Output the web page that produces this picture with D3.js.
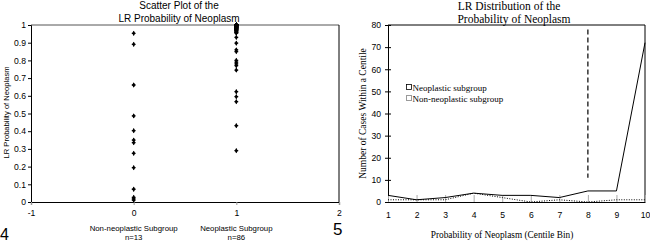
<!DOCTYPE html>
<html><head><meta charset="utf-8">
<script src="https://cdn.jsdelivr.net/npm/d3@7"></script>
<style>body{margin:0;background:#fff}svg{display:block}</style>
</head><body>
<svg id="c" width="650" height="242"></svg>
<script>
// ---- Data: left scatter ----
const groupX = [0, 1];
const groupNames = ["Non-neoplastic Subgroup", "Neoplastic Subgroup"];
const groupN = ["n=13", "n=86"];
const nonNeoplastic = [0.953, 0.891, 0.661, 0.486, 0.403, 0.35, 0.335, 0.275, 0.194, 0.072, 0.026, 0.018, 0.01];
const neoplastic = [
  1,1,1,1,1,1,1,1,1,1,1,1,1,1,1,1,1,1,1,1,
  0.998,0.998,0.998,0.998,0.998,0.998,0.998,0.998,0.998,0.998,
  0.995,0.995,0.995,0.995,0.995,0.995,0.995,0.995,0.995,0.995,
  0.99,0.99,0.99,0.99,0.99,0.99,0.99,0.99,
  0.985,0.985,0.985,0.985,0.985,0.985,
  0.98,0.98,0.98,0.98,0.98,
  0.975,0.975,0.975,0.975,
  0.97,0.97,0.97,
  0.965,0.965,0.96,0.96,0.955,0.955,
  0.93,0.897,0.86,0.85,0.80,0.79,0.78,0.77,0.745,0.623,0.595,0.567,0.431,0.29
];
const scatterYTicks = [0,0.1,0.2,0.3,0.4,0.5,0.6,0.7,0.8,0.9,1];
const scatterXTicks = [-1,0,1,2];

// ---- Data: right line chart ----
const centileBins = [1,2,3,4,5,6,7,8,9,10];
const neoplasticCounts = [3,1,2,4,3,3,2,5,5,72];
const nonNeoplasticCounts = [1,1,1,4,2,0,1,0,1,1];
const cutoffBin = 8;
const cutoffRange = [11, 78];
const lineYTicks = [0,10,20,30,40,50,60,70,80];

const svg = d3.select("#c");
const sans = "'Liberation Sans', Arial, sans-serif";
const serif = "'Liberation Serif', 'Times New Roman', serif";

// ================= LEFT CHART =================
const L = {x0:31, x1:339, y0:202, y1:25};
const xs = d3.scaleLinear().domain([-1,2]).range([L.x0, L.x1]);
const ys = d3.scaleLinear().domain([0,1]).range([L.y0, L.y1]);
const gL = svg.append("g");

// frame
gL.append("line").attr("x1",L.x0).attr("x2",L.x1).attr("y1",L.y1).attr("y2",L.y1).attr("stroke","#555").attr("stroke-width",1);
gL.append("line").attr("x1",L.x1).attr("x2",L.x1).attr("y1",L.y1).attr("y2",L.y0).attr("stroke","#000").attr("stroke-width",1);

const yAxL = gL.append("g").attr("transform",`translate(${L.x0},0)`)
  .call(d3.axisLeft(ys).tickValues(scatterYTicks).tickSize(3).tickPadding(2).tickFormat(d=>d3.format("~g")(d)));
yAxL.selectAll("text").attr("font-family",sans).attr("font-size","8.6px").attr("fill","#000");
yAxL.select(".domain").attr("stroke","#000");

const xAxL = gL.append("g").attr("transform",`translate(0,${L.y0})`)
  .call(d3.axisBottom(xs).tickValues(scatterXTicks).tickSize(3).tickPadding(5).tickFormat(d=>d));
xAxL.selectAll("text").attr("font-family",sans).attr("font-size","8.6px").attr("fill","#000");
xAxL.selectAll(".tick line").attr("stroke","#999");
xAxL.select(".domain").attr("stroke","#000").attr("stroke-width",1.2);

const diamond = d3.symbol().type(d3.symbolDiamond).size(8);
const cross = d3.symbol().type(d3.symbolCross).size(8);
[[0,nonNeoplastic],[1,neoplastic]].forEach(([gi,vals])=>{
  const g = gL.append("g");
  vals.forEach(v=>{
    g.append("path").attr("d",diamond()).attr("transform",`translate(${xs(groupX[gi])},${ys(v)})`).attr("fill","#000");
    g.append("path").attr("d",cross()).attr("transform",`translate(${xs(groupX[gi])},${ys(v)})`).attr("fill","#000");
  });
});

// titles & labels
gL.append("text").attr("x",179).attr("y",9).attr("text-anchor","middle").attr("font-family",sans).attr("font-size","10px").text("Scatter Plot of the");
gL.append("text").attr("x",179).attr("y",22).attr("text-anchor","middle").attr("font-family",sans).attr("font-size","10px").text("LR Probability of Neoplasm");
gL.append("text").attr("transform",`translate(9,${(L.y0+L.y1)/2 - 1}) rotate(-90)`).attr("text-anchor","middle").attr("font-family",sans).attr("font-size","7.6px").text("LR Probability of Neoplasm");
groupX.forEach((gx,i)=>{
  gL.append("text").attr("x",xs(gx)).attr("y",231).attr("text-anchor","middle").attr("font-family",sans).attr("font-size","7.8px").text(groupNames[i]);
  gL.append("text").attr("x",xs(gx)).attr("y",240).attr("text-anchor","middle").attr("font-family",sans).attr("font-size","7.8px").text(groupN[i]);
});
gL.append("text").attr("x",0).attr("y",240).attr("font-family",sans).attr("font-size","16px").attr("font-weight","300").text("4");

// ================= RIGHT CHART =================
const R = {x0:388, x1:645, y0:202, y1:25};
const xr = d3.scaleLinear().domain([1,10]).range([R.x0, R.x1]);
const yr = d3.scaleLinear().domain([0,80]).range([R.y0, R.y1]);
const gR = svg.append("g");

gR.append("line").attr("x1",R.x0).attr("x2",R.x1).attr("y1",R.y1).attr("y2",R.y1).attr("stroke","#000");
gR.append("line").attr("x1",R.x1).attr("x2",R.x1).attr("y1",R.y1).attr("y2",R.y0).attr("stroke","#000");

const yAxR = gR.append("g").attr("transform",`translate(${R.x0},0)`)
  .call(d3.axisLeft(yr).tickValues(lineYTicks).tickSizeInner(3).tickSizeOuter(0).tickPadding(4));
yAxR.selectAll(".tick line").attr("x1",3);
yAxR.selectAll("text").attr("font-family",sans).attr("font-size","8.6px").attr("fill","#000");
yAxR.select(".domain").attr("stroke","#000");

const xAxR = gR.append("g").attr("transform",`translate(0,${R.y0})`)
  .call(d3.axisBottom(xr).tickValues(centileBins).tickSizeInner(0).tickSizeOuter(0).tickPadding(10));
xAxR.selectAll(".tick").append("line").attr("y1",0).attr("y2",-7).attr("stroke","#aaa");
xAxR.selectAll("text").attr("font-family",sans).attr("font-size","8.6px").attr("fill","#000");
xAxR.select(".domain").attr("stroke","#000").attr("stroke-width",1.2);

const line = d3.line().x((d,i)=>xr(centileBins[i])).y(d=>yr(d));
gR.append("path").attr("d",line(nonNeoplasticCounts)).attr("fill","none").attr("stroke","#000").attr("stroke-width",1).attr("stroke-dasharray","1,1.5");
gR.append("path").attr("d",line(neoplasticCounts)).attr("fill","none").attr("stroke","#000").attr("stroke-width",1);

gR.append("line").attr("x1",xr(cutoffBin)).attr("x2",xr(cutoffBin)).attr("y1",yr(cutoffRange[1])).attr("y2",yr(cutoffRange[0]))
  .attr("stroke","#000").attr("stroke-width",1.2).attr("stroke-dasharray","5,3");

// legend
gR.append("rect").attr("x",406.5).attr("y",84.5).attr("width",5).attr("height",5).attr("fill","none").attr("stroke","#000").attr("stroke-width",0.8);
gR.append("rect").attr("x",406.5).attr("y",95.5).attr("width",5).attr("height",5).attr("fill","none").attr("stroke","#000").attr("stroke-width",0.8).attr("stroke-dasharray","1,1");
gR.append("text").attr("x",412.5).attr("y",91).attr("font-family",serif).attr("font-size","9px").text("Neoplastic subgroup");
gR.append("text").attr("x",412.5).attr("y",102).attr("font-family",serif).attr("font-size","9px").text("Non-neoplastic subgroup");

gR.append("text").attr("x",509).attr("y",10).attr("text-anchor","middle").attr("font-family",serif).attr("font-size","11.5px").text("LR Distribution of the");
gR.append("text").attr("x",514).attr("y",23).attr("text-anchor","middle").attr("font-family",serif).attr("font-size","11.5px").text("Probability of Neoplasm");
gR.append("text").attr("transform",`translate(366,${(R.y0+R.y1)/2}) rotate(-90)`).attr("text-anchor","middle").attr("font-family",serif).attr("font-size","9.5px").text("Number of Cases Within a Centile");
gR.append("text").attr("x",502).attr("y",238).attr("text-anchor","middle").attr("font-family",serif).attr("font-size","9.3px").text("Probability of Neoplasm (Centile Bin)");
gR.append("text").attr("x",333).attr("y",235).attr("font-family",sans).attr("font-size","17px").attr("font-weight","300").text("5");
</script>
</body></html>
